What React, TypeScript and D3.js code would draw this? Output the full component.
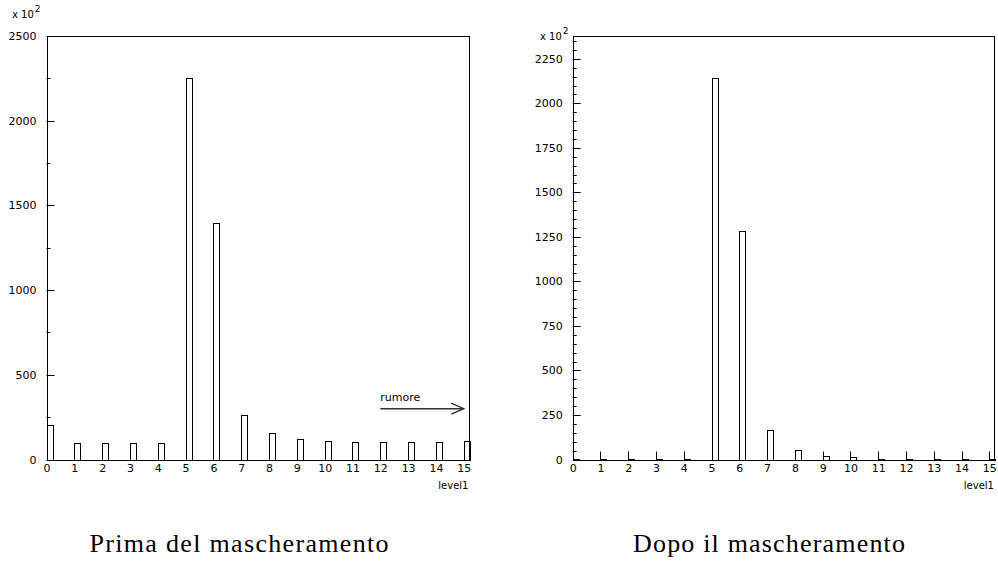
import React from 'react'
import * as d3 from 'd3'

// histogram contents, units of 10^2
const levels = [0, 1, 2, 3, 4, 5, 6, 7, 8, 9, 10, 11, 12, 13, 14, 15]
const primaValues = [205, 100, 100, 100, 100, 2250, 1395, 265, 155, 120, 110, 105, 105, 102, 102, 110]
const dopoValues = [3, 3, 3, 3, 3, 2140, 1285, 165, 53, 22, 12, 5, 5, 5, 5, 5]

const primaYTicks = [0, 500, 1000, 1500, 2000, 2500]
const dopoYTicks = [0, 250, 500, 750, 1000, 1250, 1500, 1750, 2000, 2250]
const xTicks = levels

const BIN = 0.2
const FONT = '"DejaVu Sans", "Liberation Sans", sans-serif'
const SERIF = '"Liberation Serif", "DejaVu Serif", serif'

type PanelProps = {
  left: number
  right: number
  top: number
  bottom: number
  yMax: number
  values: number[]
  yTicks: number[]
  minorStep: number
  caption: string
  captionX: number
  captionWidth: number
  scaleLabelX: number
  scaleLabelY: number
  noise?: boolean
}

function Panel(props: PanelProps) {
  const { left, right, top, bottom, yMax, values, yTicks, minorStep, caption, captionX, captionWidth,
    scaleLabelX, scaleLabelY, noise } = props
  const x = d3.scaleLinear().domain([0, 15.17]).range([left, right])
  const y = d3.scaleLinear().domain([0, yMax]).range([bottom, top])
  const minor = d3.range(0, yMax + 0.001, minorStep).filter(v => !yTicks.includes(v))

  return (
    <g>
      {values.map((v, i) => (
        <rect key={i} x={Math.round(x(levels[i])) + 0.5} y={Math.round(y(v)) + 0.5}
          width={Math.round(x(levels[i] + BIN) - x(levels[i]))}
          height={Math.max(0, Math.round(bottom) - Math.round(y(v)))}
          fill="#fff" stroke="#000" strokeWidth={1} />
      ))}
      {/* frame */}
      <rect x={Math.round(left) + 0.5} y={Math.round(top) + 0.5} width={Math.round(right - left)}
        height={Math.round(bottom - top)} fill="none" stroke="#000" strokeWidth={1} />
      {/* y ticks */}
      {yTicks.map(t => (
        <g key={'y' + t}>
          <line x1={left} x2={left + 8} y1={Math.round(y(t)) + 0.5} y2={Math.round(y(t)) + 0.5} stroke="#000" />
          <text x={left - 10} y={y(t) + 4} textAnchor="end" fontSize={11} fontFamily={FONT}>{t}</text>
        </g>
      ))}
      {minor.map(t => (
        <line key={'m' + t} x1={left} x2={left + 4} y1={Math.round(y(t)) + 0.5} y2={Math.round(y(t)) + 0.5} stroke="#000" />
      ))}
      {/* x ticks */}
      {xTicks.map(t => (
        <g key={'x' + t}>
          <line x1={Math.round(x(t)) + 0.5} x2={Math.round(x(t)) + 0.5} y1={bottom} y2={bottom - 8} stroke="#000" />
          <text x={x(t) + 0.5} y={bottom + 12.5} textAnchor="middle" fontSize={11} fontFamily={FONT}>{t}</text>
        </g>
      ))}
      <text x={right} y={bottom + 29} textAnchor="end" fontSize={10} fontFamily={FONT}>level1</text>
      <text x={scaleLabelX} y={scaleLabelY} fontSize={10} fontFamily={FONT}>
        x 10<tspan dx={1} dy={-6} fontSize={9}>2</tspan>
      </text>
      {noise && (
        <g>
          <text x={x(12)} y={y(345)} fontSize={11} fontFamily={FONT}>rumore</text>
          <line x1={x(12)} x2={x(15)} y1={y(300)} y2={y(300)} stroke="#333" strokeWidth={1.6} />
          <polyline points={`${x(14.55)},${y(300) - 5.5} ${x(15)},${y(300)} ${x(14.55)},${y(300) + 5.5}`}
            fill="none" stroke="#333" strokeWidth={1.4} />
        </g>
      )}
      <text x={captionX - captionWidth / 2} y={552} fontSize={26} fontFamily={SERIF}
        textLength={captionWidth} lengthAdjust="spacing">{caption}</text>
    </g>
  )
}

export default function App() {
  return (
    <svg width={998} height={565} style={{ position: 'absolute', left: 0, top: 0, background: '#fff' }}>
      <rect width={998} height={565} fill="#fff" />
      <Panel left={46.5} right={468.5} top={36} bottom={459.5} yMax={2500} values={primaValues}
        yTicks={primaYTicks} minorStep={250} caption="Prima del mascheramento" captionX={239} captionWidth={299}
        scaleLabelX={12} scaleLabelY={18} noise />
      <Panel left={572.7} right={994} top={35.7} bottom={459.5} yMax={2380} values={dopoValues}
        yTicks={dopoYTicks} minorStep={50} caption="Dopo il mascheramento" captionX={769} captionWidth={272}
        scaleLabelX={540} scaleLabelY={40} />
    </svg>
  )
}
